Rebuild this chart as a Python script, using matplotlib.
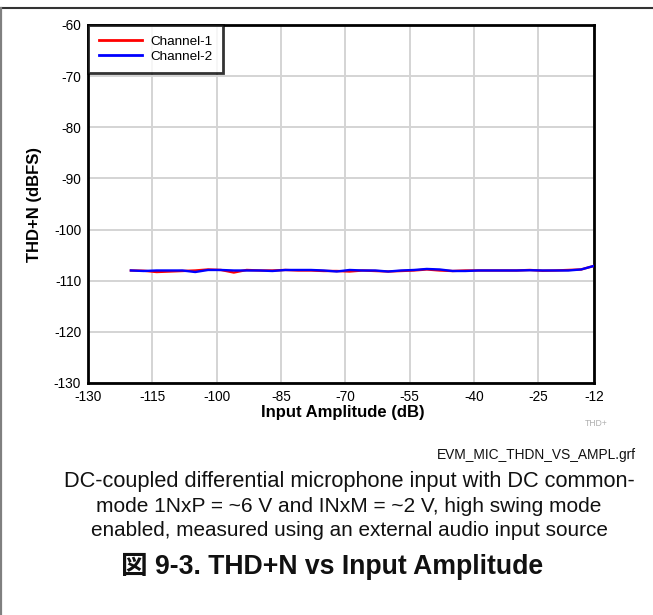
import matplotlib
matplotlib.use("Agg")
import matplotlib.pyplot as plt
from matplotlib.lines import Line2D

plt.rcParams['font.family'] = ['Liberation Sans', 'Noto Sans CJK JP', 'DejaVu Sans']
plt.rcParams['axes.unicode_minus'] = False

# ---- data ----
amplitude_db = [-120, -117, -114, -111, -108, -105, -102, -99, -96, -93, -90, -87, -84,
                -81, -78, -75, -72, -69, -66, -63, -60, -57, -54, -51, -48, -45, -42,
                -39, -36, -33, -30, -27, -24, -21, -18, -15, -12]
channel1 = [-108.0, -108.05, -108.3, -108.2, -108.1, -108.0, -107.8, -107.9, -108.4, -107.9,
            -108.0, -108.0, -107.9, -108.0, -108.0, -108.1, -108.1, -108.2, -108.0, -108.1,
            -108.2, -108.1, -108.0, -107.8, -108.0, -108.1, -108.0, -108.0, -108.0, -108.0,
            -108.0, -107.9, -108.05, -108.0, -107.9, -107.8, -107.1]
channel2 = [-108.0, -108.1, -108.0, -108.0, -108.0, -108.3, -107.9, -107.9, -108.0, -108.0,
            -108.0, -108.1, -107.9, -107.9, -107.9, -108.0, -108.2, -107.9, -108.0, -108.0,
            -108.2, -108.0, -107.9, -107.7, -107.8, -108.1, -108.1, -108.0, -108.0, -108.0,
            -108.0, -107.95, -108.0, -108.0, -108.0, -107.8, -107.1]
series_labels = ["Channel-1", "Channel-2"]
x_ticks = [-130, -115, -100, -85, -70, -55, -40, -25, -12]
y_ticks = [-130, -120, -110, -100, -90, -80, -70, -60]
x_label = "Input Amplitude (dB)"
y_label = "THD+N (dBFS)"
caption_lines = ["DC-coupled differential microphone input with DC common-",
                 "mode 1NxP = ~6 V and INxM = ~2 V, high swing mode",
                 "enabled, measured using an external audio input source"]
figure_title = "図 9-3. THD+N vs Input Amplitude"
file_tag = "EVM_MIC_THDN_VS_AMPL.grf"
corner_tag = "THD+"

W, H = 653, 615
fig = plt.figure(figsize=(W / 100, H / 100), dpi=100)
fig.patch.set_facecolor('white')

def fx(px):
    return px / W

def fy(py):
    return 1 - py / H

ax_l, ax_r, ax_t, ax_b = 88, 594, 25, 383
ax = fig.add_axes([fx(ax_l), fy(ax_b), (ax_r - ax_l) / W, (ax_b - ax_t) / H])

ax.plot(amplitude_db, channel1, color='#ff0000', lw=1.7, label=series_labels[0], zorder=3)
ax.plot(amplitude_db, channel2, color='#0000ff', lw=1.7, label=series_labels[1], zorder=4)

ax.set_xlim(-130, -12)
ax.set_ylim(-130, -60)
ax.set_xticks(x_ticks)
ax.set_yticks(y_ticks)
ax.set_xticklabels([str(v) for v in x_ticks])
ax.set_yticklabels([str(v) for v in y_ticks])
ax.tick_params(length=0, labelsize=9.8, pad=5)
ax.grid(True, color='#d4d4d4', lw=1.4)
ax.set_axisbelow(True)
for s in ax.spines.values():
    s.set_linewidth(2.0)
    s.set_color('black')

ax.set_xlabel(x_label, fontsize=12, fontweight='bold')
ax.xaxis.label.set_va('center')
ax.xaxis.set_label_coords((343 - ax_l) / (ax_r - ax_l), (ax_b - 413) / (ax_b - ax_t))
ax.set_ylabel(y_label, fontsize=12, fontweight='bold')
ax.yaxis.label.set_va('center')
ax.yaxis.set_label_coords((35 - ax_l) / (ax_r - ax_l), 0.5)

leg = ax.legend(loc='upper left', borderaxespad=0, fontsize=9.7, frameon=True,
                fancybox=False, handlelength=3.2, handletextpad=0.6,
                labelspacing=0.15, borderpad=0.8)
leg.get_frame().set_edgecolor('black')
leg.get_frame().set_linewidth(2.0)
for ln in leg.get_lines():
    ln.set_linewidth(2.0)

fig.text(fx(596), fy(424), corner_tag, fontsize=6.2, color='#b0b0b0', ha='center', va='center')
t_tag = fig.text(fx(636), fy(455), file_tag, fontsize=9, color='#111111', ha='right', va='center')

cap_y = [481, 506, 530]
cap_w = [574, 505, 520]
cap_texts = []
for line, yy in zip(caption_lines, cap_y):
    cap_texts.append(fig.text(fx(349), fy(yy), line, fontsize=12, color='#111111',
                              ha='center', va='center'))
t_title = fig.text(fx(332), fy(566), figure_title, fontsize=14, fontweight='bold',
                   color='#111111', ha='center', va='center')

# fit text widths to the reference
fig.canvas.draw()
r = fig.canvas.get_renderer()
def fit(t, target):
    w = t.get_window_extent(r).width
    t.set_fontsize(t.get_fontsize() * target / w)
for t, w in zip(cap_texts, cap_w):
    fit(t, w)
fit(t_title, 423)
fit(t_tag, 200)

# page frame lines
fig.add_artist(Line2D([0, 1], [fy(8), fy(8)], transform=fig.transFigure, color='#333333', lw=1.5))
fig.add_artist(Line2D([fx(1), fx(1)], [fy(8), 0], transform=fig.transFigure, color='#808080', lw=1.6))

fig.savefig("out.png", dpi=100, facecolor='white')
